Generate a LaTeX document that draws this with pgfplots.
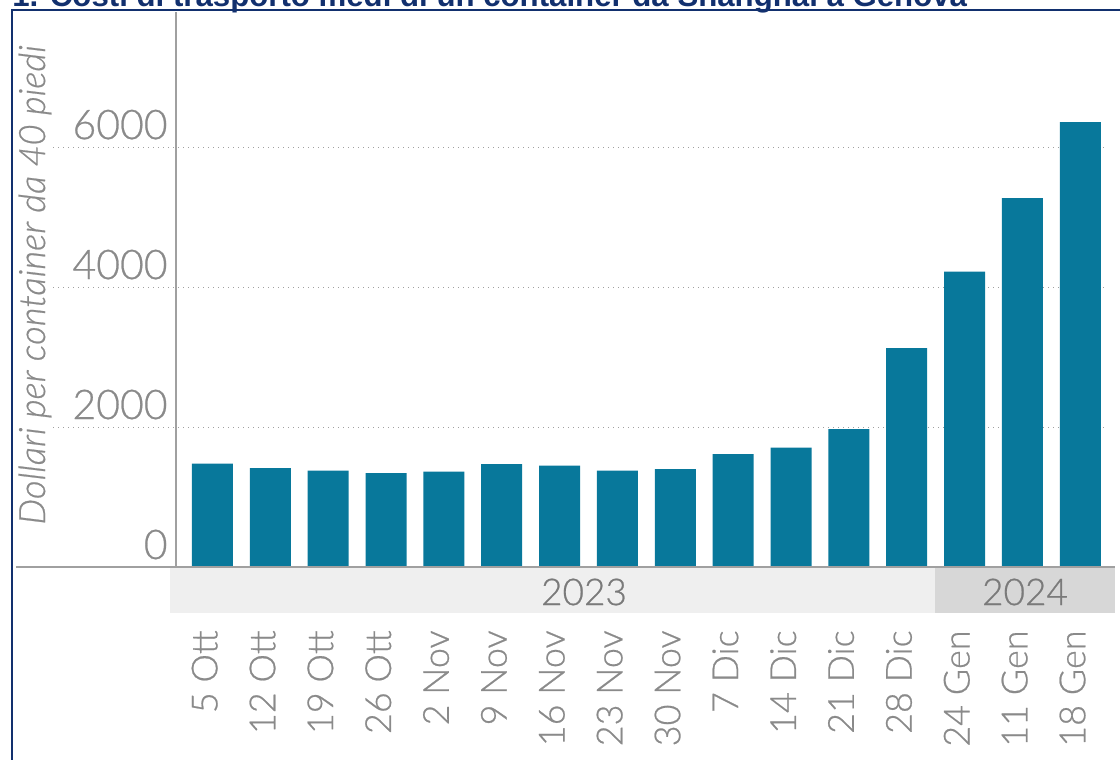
\documentclass[border=0pt]{standalone}
\usepackage{fontspec}
\setmainfont{Lato}[UprightFont={* Light},ItalicFont={* Light Italic},
    UprightFeatures={FakeBold=0.6},ItalicFeatures={FakeBold=0.6}]
\newfontfamily\titlefont{Liberation Sans}
\usepackage{pgfplots}
\pgfplotsset{compat=1.18}
\definecolor{barblue}{HTML}{08789B}
\definecolor{navy}{HTML}{12306E}
\definecolor{txtgray}{HTML}{8A8A8A}
\definecolor{yeargray}{HTML}{7A7A7A}
\definecolor{linegray}{HTML}{A0A0A0}
\definecolor{band23}{HTML}{EFEFEF}
\definecolor{band24}{HTML}{D7D7D7}
\begin{document}
\begin{tikzpicture}
% grid lines (behind the bars), stretching into the label area
\foreach \gy in {-213.5,-143.5,-73.5}
  \draw[linegray, dotted, line width=0.5pt] (26.5pt,\gy pt) -- (553.5pt,\gy pt);
\begin{axis}[
    at={(88pt,-283.5pt)}, anchor=south west,
    scale only axis,
    width=469.5pt, height=277.5pt,
    xmin=-0.63, xmax=15.6,
    ymin=0, ymax=7930,
    ybar, bar width=20.5pt, bar shift=0pt,
    axis line style={draw=none},
    major tick length=0pt,
    xtick=data,
    xticklabels={5 Ott,12 Ott,19 Ott,26 Ott,2 Nov,9 Nov,16 Nov,23 Nov,30 Nov,7 Dic,14 Dic,21 Dic,28 Dic,24 Gen,11 Gen,18 Gen},
    xticklabel style={rotate=90, anchor=mid east, inner sep=0pt,
        font=\fontsize{18}{20}\selectfont, text=txtgray},
    xticklabel shift=31.5pt,
    ytick={0,2000,4000,6000},
    yticklabels={0,2000,4000,6000},
    yticklabel style={anchor=base east, inner sep=0pt, xshift=-4pt, yshift=4pt,
        font=\fontsize{20.5}{22}\selectfont, text=txtgray},
]
\addplot[fill=barblue, draw=none] coordinates {
    (0,1476) (1,1414) (2,1376) (3,1343) (4,1362) (5,1471) (6,1450) (7,1376)
    (8,1400) (9,1614) (10,1705) (11,1971) (12,3129) (13,4219) (14,5271) (15,6357)
};
\end{axis}
% axis lines
\draw[linegray, line width=0.75pt] (8pt,-283.5pt) -- (557.5pt,-283.5pt);
\draw[linegray, line width=0.75pt] (88pt,-283.5pt) -- (88pt,-6pt);
% year bands
\fill[band23] (85pt,-284pt) rectangle (467.5pt,-306.5pt);
\fill[band24] (467.5pt,-284pt) rectangle (557.5pt,-306.5pt);
\node[text=yeargray, font=\fontsize{18.5}{20}\selectfont] at (292pt,-296pt) {2023};
\node[text=yeargray, font=\fontsize{18.5}{20}\selectfont] at (512.5pt,-296pt) {2024};
% y label
\node[rotate=90, text=txtgray, font=\fontsize{18.2}{20}\selectfont\itshape] at (17.5pt,-142.5pt)
    {Dollari per container da 40 piedi};
% frame and title
\draw[navy, line width=1pt] (6pt,-380pt) -- (6pt,-5pt) -- (560pt,-5pt);
\node[anchor=base west, inner sep=0pt, text=navy, font=\titlefont\bfseries\fontsize{15.6}{17}\selectfont]
    at (6pt,-3pt) {1. Costi di trasporto medi di un container da Shanghai a Genova};
\pgfresetboundingbox
\path[use as bounding box] (0pt,0pt) rectangle (560pt,-380pt);
\end{tikzpicture}
\end{document}
